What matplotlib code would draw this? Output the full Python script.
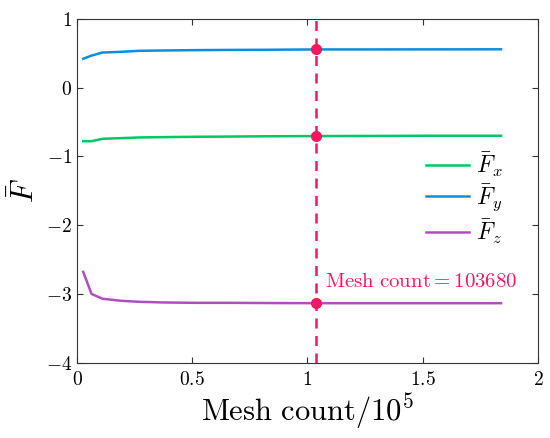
import matplotlib
matplotlib.use("Agg")
import matplotlib.pyplot as plt
from matplotlib.ticker import FuncFormatter

plt.rcParams['mathtext.fontset'] = 'cm'
plt.rcParams['font.family'] = 'serif'
plt.rcParams['font.serif'] = ['cmr10', 'DejaVu Serif']

# mesh count / 1e5
mesh = [0.027, 0.063, 0.11, 0.19, 0.27, 0.38, 0.52, 0.66, 0.82, 1.0368, 1.26, 1.53, 1.84]
Fx = [-0.78, -0.78, -0.745, -0.735, -0.725, -0.72, -0.715, -0.712, -0.708, -0.705, -0.703, -0.70, -0.70]
Fy = [0.42, 0.465, 0.51, 0.52, 0.535, 0.54, 0.545, 0.548, 0.55, 0.555, 0.555, 0.556, 0.557]
Fz = [-2.68, -3.00, -3.07, -3.10, -3.115, -3.125, -3.13, -3.13, -3.133, -3.135, -3.135, -3.135, -3.135]
chosen = 1.0368
labels = [r'$\bar{F}_x$', r'$\bar{F}_y$', r'$\bar{F}_z$']
colors = ['#00C864', '#0A8FE0', '#B04EC0']
red = '#F5175F'

fig = plt.figure(figsize=(5.5, 4.38), dpi=100)
ax = fig.add_axes([0.14, 0.172, 0.838, 0.785])

for ys, lab, c in zip([Fx, Fy, Fz], labels, colors):
    ax.plot(mesh, ys, color=c, lw=1.8, label=lab)

i = mesh.index(chosen)
ax.axvline(chosen, color=red, lw=1.8, ls=(0, (4, 3)))
ax.plot([chosen] * 3, [Fx[i], Fy[i], Fz[i]], 'o', color=red, ms=7, zorder=5)
ax.text(chosen + 0.04, Fz[i] + 0.17, r'$\mathrm{Mesh\ count{=}103680}$', color=red,
        fontsize=15, va='bottom', ha='left')

ax.set_xlim(0, 2)
ax.set_ylim(-4, 1)
ax.set_xticks([0, 0.5, 1, 1.5, 2])
ax.set_yticks([-4, -3, -2, -1, 0, 1])
fmt = FuncFormatter(lambda v, p: '$%g$' % v)
ax.xaxis.set_major_formatter(fmt)
ax.yaxis.set_major_formatter(fmt)
ax.tick_params(direction='in', top=True, right=True, labelsize=14, length=4,
               color='#333333', width=0.8)
ax.tick_params(axis='x', pad=6)
for s in ax.spines.values():
    s.set_color('#333333')
    s.set_linewidth(0.8)

ax.set_xlabel(r'$\mathrm{Mesh\ count}/10^5$', fontsize=22, labelpad=2)
ax.set_ylabel(r'$\bar{F}$', fontsize=22, labelpad=4)

ax.legend(loc='center right', bbox_to_anchor=(0.97, 0.479), frameon=False,
          fontsize=17, handlelength=1.8, handletextpad=0.3, labelspacing=0.15)

fig.savefig('out.png', dpi=100)
